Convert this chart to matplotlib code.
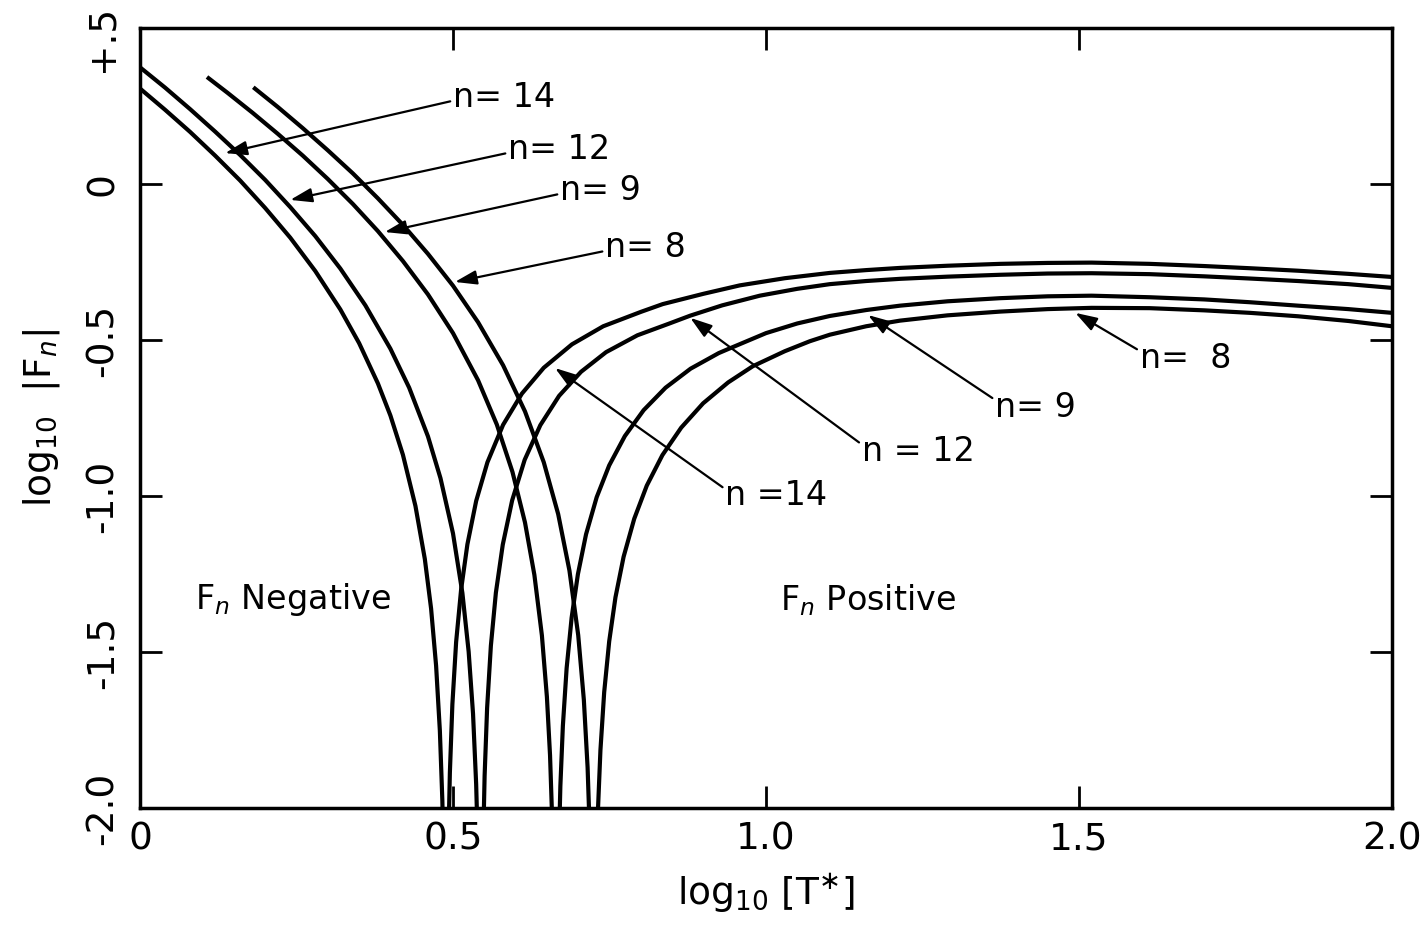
import matplotlib
matplotlib.use("Agg")
import matplotlib.pyplot as plt
from matplotlib.transforms import ScaledTranslation

plt.rcParams['font.family'] = ['DejaVu Sans']
plt.rcParams['mathtext.fontset'] = 'dejavusans'

# ---- values (x = log10 T*, y = log10 |Fn|) ----
# negative branches (F_n < 0)
n14_neg_x = [0.000, 0.040, 0.080, 0.120, 0.160, 0.200, 0.240, 0.280, 0.320, 0.350, 0.380, 0.400,
             0.420, 0.440, 0.455, 0.465, 0.473, 0.479, 0.483, 0.4855]
n14_neg_y = [0.306, 0.238, 0.167, 0.091, 0.011, -0.077, -0.172, -0.279, -0.402, -0.510, -0.639, -0.742,
             -0.868, -1.032, -1.202, -1.361, -1.544, -1.752, -1.977, -2.213]

n12_neg_x = [0.000, 0.040, 0.080, 0.120, 0.160, 0.200, 0.240, 0.280, 0.320, 0.360, 0.400, 0.430,
             0.460, 0.480, 0.500, 0.515, 0.525, 0.532, 0.537, 0.540]
n12_neg_y = [0.374, 0.309, 0.240, 0.168, 0.093, 0.013, -0.074, -0.167, -0.271, -0.389, -0.528, -0.653,
             -0.809, -0.943, -1.120, -1.311, -1.499, -1.698, -1.924, -2.148]

n9_neg_x = [0.107, 0.140, 0.180, 0.220, 0.260, 0.300, 0.340, 0.380, 0.420, 0.460, 0.500, 0.540,
            0.570, 0.595, 0.615, 0.630, 0.642, 0.650, 0.655, 0.659]
n9_neg_y = [0.343, 0.292, 0.228, 0.161, 0.091, 0.016, -0.064, -0.151, -0.247, -0.354, -0.478, -0.629,
            -0.771, -0.923, -1.085, -1.253, -1.447, -1.644, -1.831, -2.072]

n8_neg_x = [0.181, 0.220, 0.260, 0.300, 0.340, 0.380, 0.420, 0.460, 0.500, 0.540, 0.580, 0.615,
            0.645, 0.668, 0.686, 0.700, 0.709, 0.715, 0.719]
n8_neg_y = [0.310, 0.247, 0.179, 0.108, 0.034, -0.046, -0.131, -0.224, -0.326, -0.443, -0.581, -0.729,
            -0.892, -1.058, -1.239, -1.446, -1.653, -1.870, -2.110]

# positive branches (F_n > 0)
n14_pos_x = [0.4925, 0.495, 0.499, 0.505, 0.513, 0.523, 0.537, 0.555, 0.580, 0.610, 0.645, 0.690,
             0.740, 0.800, 0.835, 0.900, 0.958, 1.030, 1.102, 1.160, 1.214, 1.290, 1.374, 1.450,
             1.520, 1.613, 1.700, 1.773, 1.850, 1.930, 2.000]
n14_pos_y = [-2.119, -1.887, -1.668, -1.468, -1.299, -1.155, -1.016, -0.892, -0.772, -0.672, -0.589, -0.514,
             -0.456, -0.410, -0.385, -0.352, -0.325, -0.302, -0.285, -0.276, -0.269, -0.262, -0.256, -0.253,
             -0.252, -0.256, -0.263, -0.270, -0.278, -0.288, -0.298]

n12_pos_x = [0.548, 0.5505, 0.5545, 0.5605, 0.5685, 0.5795, 0.5945, 0.6145, 0.6395, 0.6695, 0.7045, 0.7445,
             0.7945, 0.8445, 0.879, 0.930, 0.990, 1.050, 1.102, 1.160, 1.214, 1.290, 1.374, 1.450,
             1.520, 1.613, 1.700, 1.773, 1.850, 1.930, 2.000]
n12_pos_y = [-2.129, -1.897, -1.679, -1.480, -1.310, -1.156, -1.014, -0.884, -0.773, -0.679, -0.602, -0.539,
             -0.485, -0.448, -0.422, -0.389, -0.358, -0.336, -0.321, -0.311, -0.304, -0.297, -0.291, -0.287,
             -0.286, -0.289, -0.296, -0.303, -0.311, -0.321, -0.333]

n9_pos_x = [0.6685, 0.6715, 0.6755, 0.6815, 0.6895, 0.6995, 0.7125, 0.7295, 0.7495, 0.7745, 0.8045, 0.8395,
            0.8795, 0.9245, 0.942, 1.000, 1.050, 1.102, 1.160, 1.214, 1.290, 1.374, 1.450, 1.520,
            1.613, 1.700, 1.773, 1.850, 1.930, 2.000]
n9_pos_y = [-2.171, -1.930, -1.737, -1.552, -1.390, -1.251, -1.123, -1.004, -0.902, -0.808, -0.725, -0.653,
            -0.592, -0.542, -0.527, -0.478, -0.447, -0.423, -0.404, -0.390, -0.376, -0.366, -0.360, -0.358,
            -0.363, -0.370, -0.379, -0.390, -0.401, -0.413]

n8_pos_x = [0.7315, 0.7355, 0.7415, 0.7495, 0.7595, 0.7725, 0.7895, 0.8095, 0.8345, 0.8645, 0.8995, 0.9395,
            0.979, 1.030, 1.070, 1.102, 1.160, 1.214, 1.290, 1.374, 1.450, 1.520, 1.613, 1.700,
            1.773, 1.850, 1.930, 2.000]
n8_pos_y = [-2.009, -1.815, -1.629, -1.466, -1.325, -1.195, -1.073, -0.967, -0.869, -0.781, -0.703, -0.636,
            -0.584, -0.536, -0.504, -0.483, -0.456, -0.438, -0.421, -0.409, -0.401, -0.397, -0.398, -0.405,
            -0.413, -0.424, -0.439, -0.456]

x_ticks = [0.0, 0.5, 1.0, 1.5, 2.0]
x_tick_labels = ["0", "0.5", "1.0", "1.5", "2.0"]
y_ticks = [-2.0, -1.5, -1.0, -0.5, 0.0, 0.5]
y_tick_labels = ["-2.0", "-1.5", "-1.0", "-0.5", "0", "+.5"]

# curve labels: text, arrow tip, text anchor
upper_labels = ["n= 14", "n= 12", "n= 9", "n= 8"]
upper_tips = [(0.136, 0.099), (0.240, -0.051), (0.391, -0.154), (0.503, -0.314)]
upper_text = [(0.500, 0.276), (0.588, 0.109), (0.671, -0.022), (0.743, -0.205)]

lower_labels = ["n=  8", "n= 9", "n = 12", "n =14"]
lower_tips = [(1.494, -0.413), (1.163, -0.420), (0.879, -0.429), (0.663, -0.590)]
lower_text = [(1.597, -0.558), (1.366, -0.715), (1.153, -0.856), (0.935, -1.000)]

# ---- figure ----
fig = plt.figure(figsize=(14.27, 9.27), dpi=100)
ax = fig.add_axes([0.0981, 0.1284, 0.8774, 0.8414])

lw = 3.0
for xs, ys in [(n14_neg_x, n14_neg_y), (n12_neg_x, n12_neg_y), (n9_neg_x, n9_neg_y), (n8_neg_x, n8_neg_y),
               (n14_pos_x, n14_pos_y), (n12_pos_x, n12_pos_y), (n9_pos_x, n9_pos_y), (n8_pos_x, n8_pos_y)]:
    ax.plot(xs, ys, color='black', lw=lw, solid_capstyle='butt', solid_joinstyle='round')

ax.set_xlim(0, 2.0)
ax.set_ylim(-2.0, 0.5)

ax.set_xticks(x_ticks)
ax.set_xticklabels(x_tick_labels, fontsize=27)
ax.set_yticks(y_ticks)
ax.set_yticklabels(y_tick_labels, fontsize=27, rotation=90, va='center')
ax.tick_params(direction='in', length=16, width=2.0, top=True, right=True, pad=10)
ax.tick_params(axis='y', pad=14)
# keep the top "+.5" label inside the picture
top_lab = ax.get_yticklabels()[-1]
top_lab.set_transform(top_lab.get_transform() + ScaledTranslation(0, -10 / 100, fig.dpi_scale_trans))
for s in ax.spines.values():
    s.set_linewidth(2.5)

ax.set_xlabel(r'log$_{10}$ $\left[\mathrm{T}^{\ast}\right]$', fontsize=27, labelpad=10)
ax.set_ylabel(r'log$_{10}$  $|$F$_n|$', fontsize=27, labelpad=16)

arrow_kw = dict(arrowstyle='-|>,head_length=0.55,head_width=0.18', lw=1.6, color='black',
                shrinkA=0, shrinkB=0)
for lab, tip, txt in zip(upper_labels, upper_tips, upper_text):
    ax.annotate(lab, xy=tip, xytext=txt, fontsize=24, ha='left', va='center',
                arrowprops=dict(relpos=(-0.02, 0.4), **arrow_kw))
for lab, tip, txt in zip(lower_labels, lower_tips, lower_text):
    ax.annotate(lab, xy=tip, xytext=txt, fontsize=24, ha='left', va='center',
                arrowprops=dict(relpos=(-0.02, 0.75), **arrow_kw))

ax.text(0.088, -1.333, r'F$_n$ Negative', fontsize=24, ha='left', va='center')
ax.text(1.022, -1.333, r'F$_n$ Positive', fontsize=24, ha='left', va='center')

fig.savefig('out.png', dpi=100)
